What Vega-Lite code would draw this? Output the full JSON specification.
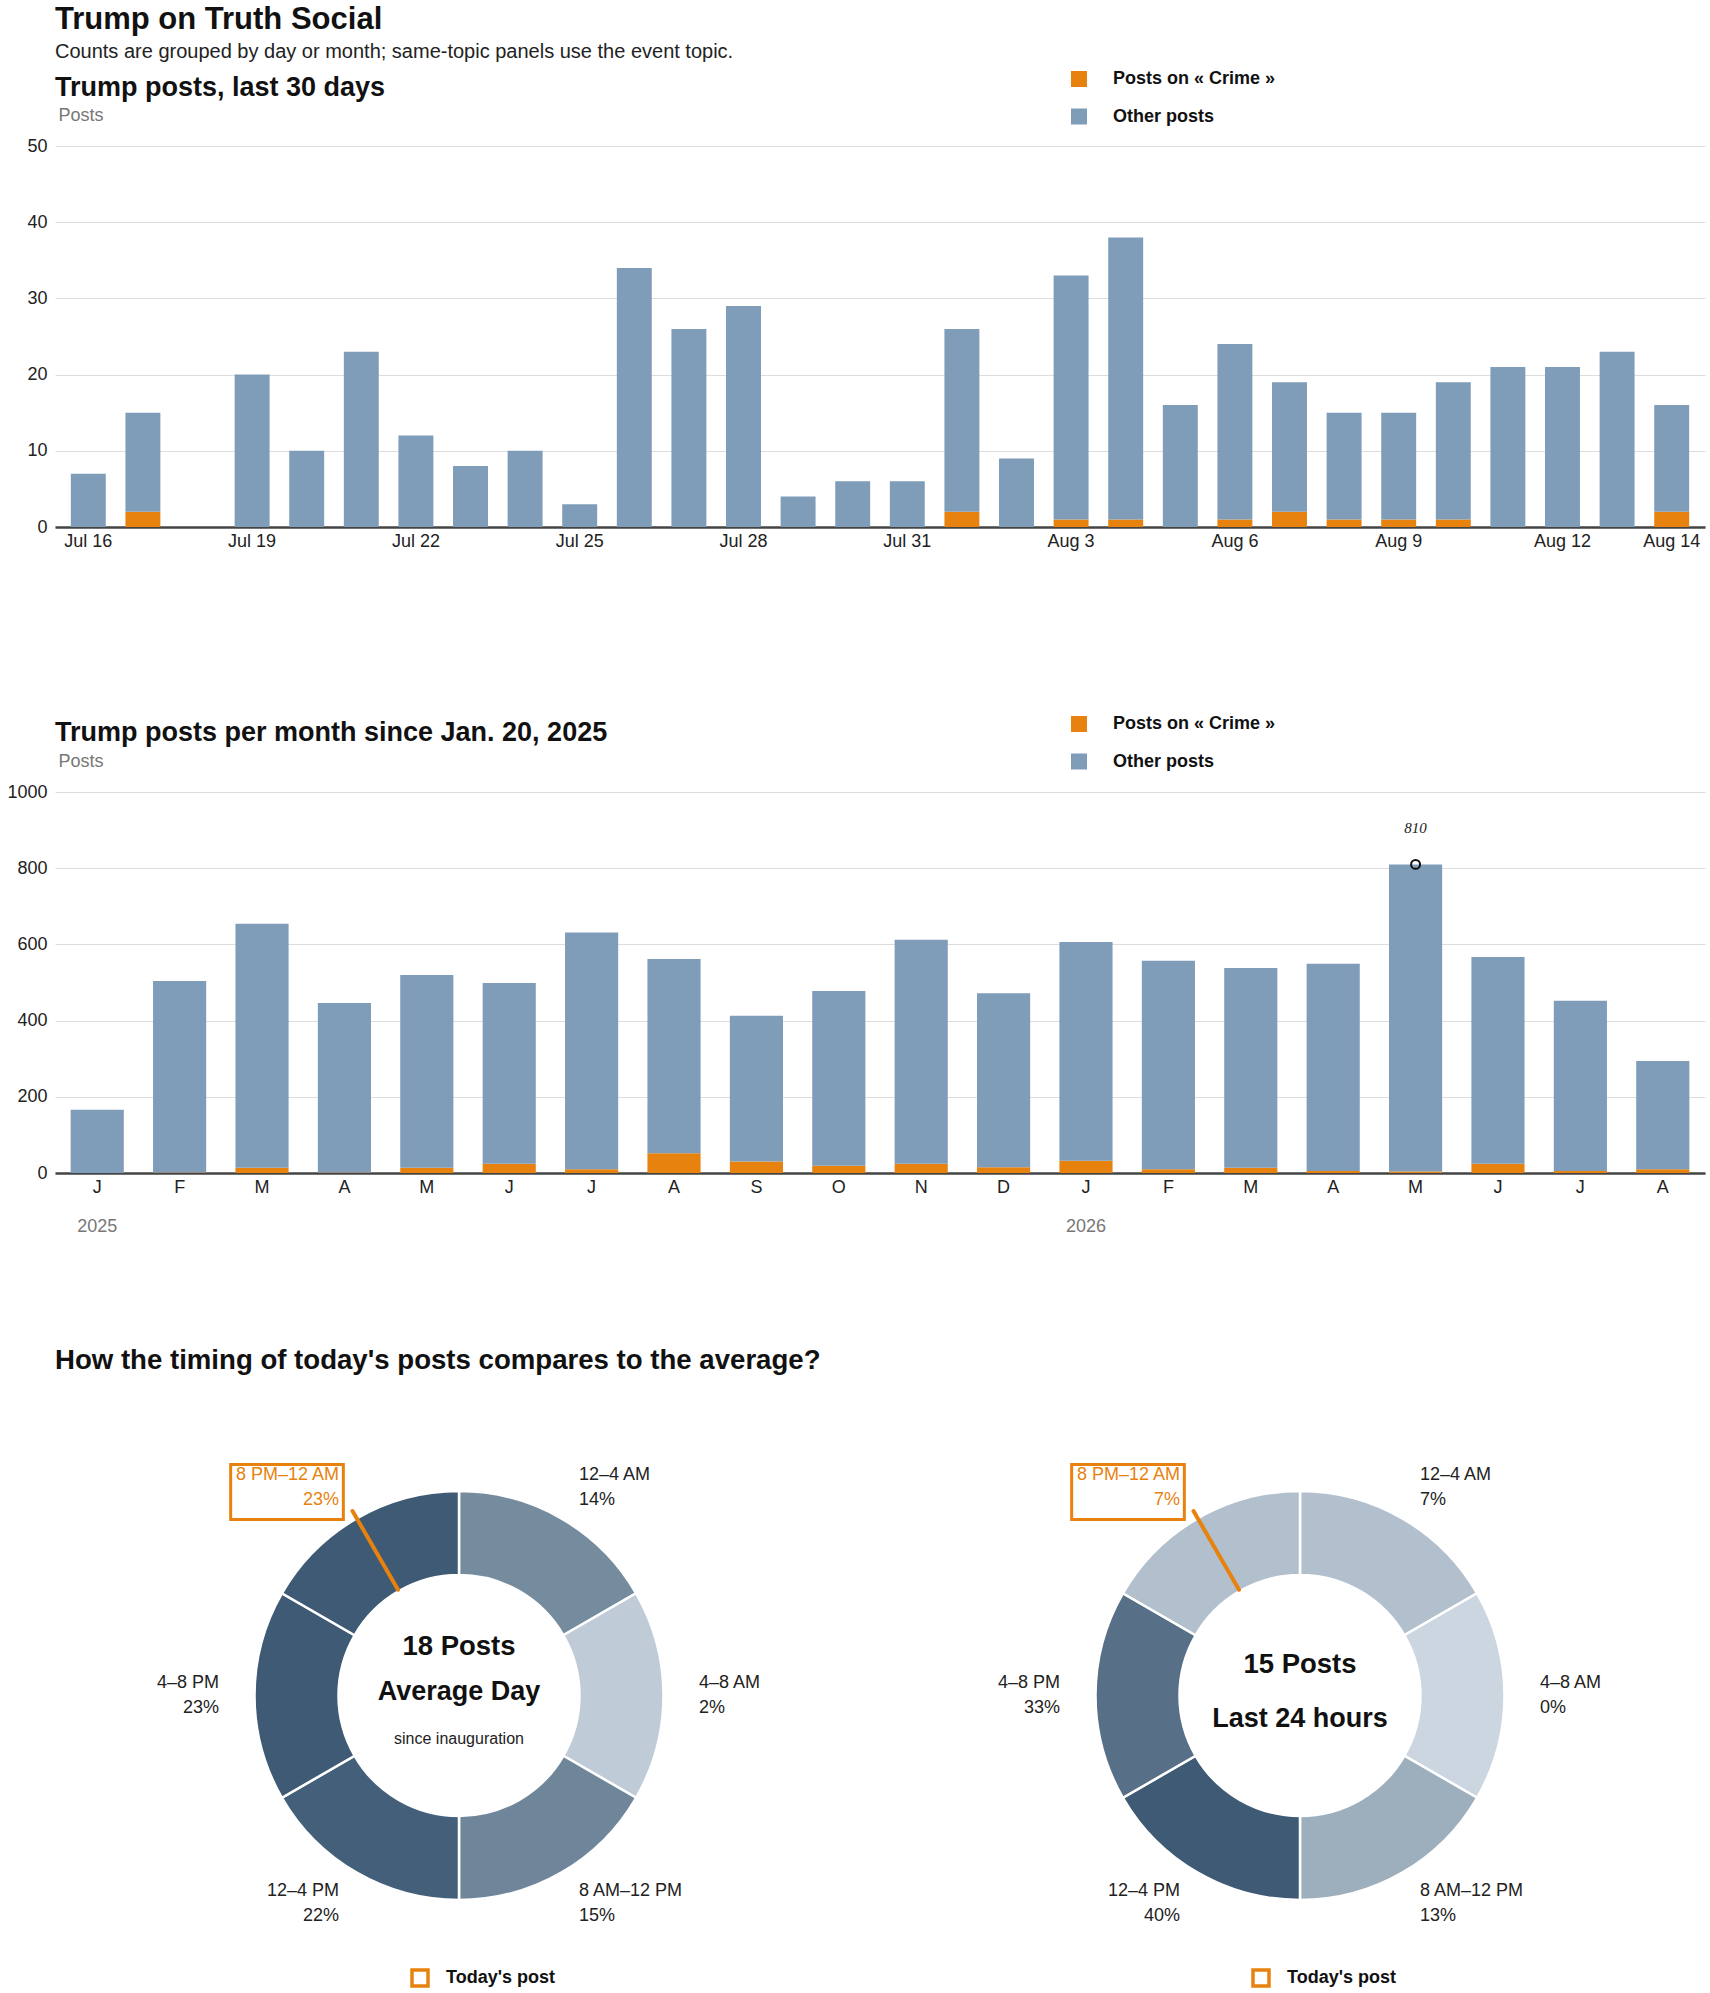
{
  "$schema": "https://vega.github.io/schema/vega-lite/v6.json",
  "background": "white",
  "padding": {"left": 6, "top": 4, "right": 2, "bottom": 0},
  "title": {
    "text": "Trump on Truth Social",
    "subtitle": "Counts are grouped by day or month; same-topic panels use the event topic.",
    "fontSize": 31,
    "subtitleFontSize": 20,
    "subtitleColor": "#222",
    "subtitlePadding": 6,
    "offset": 7
  },
  "datasets": {
    "daily": [
      {"day": "2026-07-16", "kind": "Posts on « Crime »", "posts": 0}, {"day": "2026-07-16", "kind": "Other posts", "posts": 7},
      {"day": "2026-07-17", "kind": "Posts on « Crime »", "posts": 2}, {"day": "2026-07-17", "kind": "Other posts", "posts": 13},
      {"day": "2026-07-18", "kind": "Posts on « Crime »", "posts": 0}, {"day": "2026-07-18", "kind": "Other posts", "posts": 0},
      {"day": "2026-07-19", "kind": "Posts on « Crime »", "posts": 0}, {"day": "2026-07-19", "kind": "Other posts", "posts": 20},
      {"day": "2026-07-20", "kind": "Posts on « Crime »", "posts": 0}, {"day": "2026-07-20", "kind": "Other posts", "posts": 10},
      {"day": "2026-07-21", "kind": "Posts on « Crime »", "posts": 0}, {"day": "2026-07-21", "kind": "Other posts", "posts": 23},
      {"day": "2026-07-22", "kind": "Posts on « Crime »", "posts": 0}, {"day": "2026-07-22", "kind": "Other posts", "posts": 12},
      {"day": "2026-07-23", "kind": "Posts on « Crime »", "posts": 0}, {"day": "2026-07-23", "kind": "Other posts", "posts": 8},
      {"day": "2026-07-24", "kind": "Posts on « Crime »", "posts": 0}, {"day": "2026-07-24", "kind": "Other posts", "posts": 10},
      {"day": "2026-07-25", "kind": "Posts on « Crime »", "posts": 0}, {"day": "2026-07-25", "kind": "Other posts", "posts": 3},
      {"day": "2026-07-26", "kind": "Posts on « Crime »", "posts": 0}, {"day": "2026-07-26", "kind": "Other posts", "posts": 34},
      {"day": "2026-07-27", "kind": "Posts on « Crime »", "posts": 0}, {"day": "2026-07-27", "kind": "Other posts", "posts": 26},
      {"day": "2026-07-28", "kind": "Posts on « Crime »", "posts": 0}, {"day": "2026-07-28", "kind": "Other posts", "posts": 29},
      {"day": "2026-07-29", "kind": "Posts on « Crime »", "posts": 0}, {"day": "2026-07-29", "kind": "Other posts", "posts": 4},
      {"day": "2026-07-30", "kind": "Posts on « Crime »", "posts": 0}, {"day": "2026-07-30", "kind": "Other posts", "posts": 6},
      {"day": "2026-07-31", "kind": "Posts on « Crime »", "posts": 0}, {"day": "2026-07-31", "kind": "Other posts", "posts": 6},
      {"day": "2026-08-01", "kind": "Posts on « Crime »", "posts": 2}, {"day": "2026-08-01", "kind": "Other posts", "posts": 24},
      {"day": "2026-08-02", "kind": "Posts on « Crime »", "posts": 0}, {"day": "2026-08-02", "kind": "Other posts", "posts": 9},
      {"day": "2026-08-03", "kind": "Posts on « Crime »", "posts": 1}, {"day": "2026-08-03", "kind": "Other posts", "posts": 32},
      {"day": "2026-08-04", "kind": "Posts on « Crime »", "posts": 1}, {"day": "2026-08-04", "kind": "Other posts", "posts": 37},
      {"day": "2026-08-05", "kind": "Posts on « Crime »", "posts": 0}, {"day": "2026-08-05", "kind": "Other posts", "posts": 16},
      {"day": "2026-08-06", "kind": "Posts on « Crime »", "posts": 1}, {"day": "2026-08-06", "kind": "Other posts", "posts": 23},
      {"day": "2026-08-07", "kind": "Posts on « Crime »", "posts": 2}, {"day": "2026-08-07", "kind": "Other posts", "posts": 17},
      {"day": "2026-08-08", "kind": "Posts on « Crime »", "posts": 1}, {"day": "2026-08-08", "kind": "Other posts", "posts": 14},
      {"day": "2026-08-09", "kind": "Posts on « Crime »", "posts": 1}, {"day": "2026-08-09", "kind": "Other posts", "posts": 14},
      {"day": "2026-08-10", "kind": "Posts on « Crime »", "posts": 1}, {"day": "2026-08-10", "kind": "Other posts", "posts": 18},
      {"day": "2026-08-11", "kind": "Posts on « Crime »", "posts": 0}, {"day": "2026-08-11", "kind": "Other posts", "posts": 21},
      {"day": "2026-08-12", "kind": "Posts on « Crime »", "posts": 0}, {"day": "2026-08-12", "kind": "Other posts", "posts": 21},
      {"day": "2026-08-13", "kind": "Posts on « Crime »", "posts": 0}, {"day": "2026-08-13", "kind": "Other posts", "posts": 23},
      {"day": "2026-08-14", "kind": "Posts on « Crime »", "posts": 2}, {"day": "2026-08-14", "kind": "Other posts", "posts": 14}
    ],
    "monthly": [
      {"month": "2025-01", "kind": "Posts on « Crime »", "posts": 0}, {"month": "2025-01", "kind": "Other posts", "posts": 166},
      {"month": "2025-02", "kind": "Posts on « Crime »", "posts": 1}, {"month": "2025-02", "kind": "Other posts", "posts": 503},
      {"month": "2025-03", "kind": "Posts on « Crime »", "posts": 14}, {"month": "2025-03", "kind": "Other posts", "posts": 640},
      {"month": "2025-04", "kind": "Posts on « Crime »", "posts": 1}, {"month": "2025-04", "kind": "Other posts", "posts": 445},
      {"month": "2025-05", "kind": "Posts on « Crime »", "posts": 14}, {"month": "2025-05", "kind": "Other posts", "posts": 506},
      {"month": "2025-06", "kind": "Posts on « Crime »", "posts": 24}, {"month": "2025-06", "kind": "Other posts", "posts": 475},
      {"month": "2025-07", "kind": "Posts on « Crime »", "posts": 10}, {"month": "2025-07", "kind": "Other posts", "posts": 621},
      {"month": "2025-08", "kind": "Posts on « Crime »", "posts": 52}, {"month": "2025-08", "kind": "Other posts", "posts": 510},
      {"month": "2025-09", "kind": "Posts on « Crime »", "posts": 30}, {"month": "2025-09", "kind": "Other posts", "posts": 383},
      {"month": "2025-10", "kind": "Posts on « Crime »", "posts": 19}, {"month": "2025-10", "kind": "Other posts", "posts": 459},
      {"month": "2025-11", "kind": "Posts on « Crime »", "posts": 24}, {"month": "2025-11", "kind": "Other posts", "posts": 588},
      {"month": "2025-12", "kind": "Posts on « Crime »", "posts": 15}, {"month": "2025-12", "kind": "Other posts", "posts": 457},
      {"month": "2026-01", "kind": "Posts on « Crime »", "posts": 32}, {"month": "2026-01", "kind": "Other posts", "posts": 574},
      {"month": "2026-02", "kind": "Posts on « Crime »", "posts": 10}, {"month": "2026-02", "kind": "Other posts", "posts": 547},
      {"month": "2026-03", "kind": "Posts on « Crime »", "posts": 14}, {"month": "2026-03", "kind": "Other posts", "posts": 524},
      {"month": "2026-04", "kind": "Posts on « Crime »", "posts": 5}, {"month": "2026-04", "kind": "Other posts", "posts": 544},
      {"month": "2026-05", "kind": "Posts on « Crime »", "posts": 4}, {"month": "2026-05", "kind": "Other posts", "posts": 806},
      {"month": "2026-06", "kind": "Posts on « Crime »", "posts": 24}, {"month": "2026-06", "kind": "Other posts", "posts": 543},
      {"month": "2026-07", "kind": "Posts on « Crime »", "posts": 5}, {"month": "2026-07", "kind": "Other posts", "posts": 447},
      {"month": "2026-08", "kind": "Posts on « Crime »", "posts": 10}, {"month": "2026-08", "kind": "Other posts", "posts": 284}
    ],
    "peak": [{"month": "2026-05", "posts": 810}],
    "avg_slots": [
      {"slot": "12–4 AM", "start": 0, "hours": 4, "share": 0.14, "current": false},
      {"slot": "4–8 AM", "start": 4, "hours": 4, "share": 0.02, "current": false},
      {"slot": "8 AM–12 PM", "start": 8, "hours": 4, "share": 0.15, "current": false},
      {"slot": "12–4 PM", "start": 12, "hours": 4, "share": 0.22, "current": false},
      {"slot": "4–8 PM", "start": 16, "hours": 4, "share": 0.23, "current": false},
      {"slot": "8 PM–12 AM", "start": 20, "hours": 4, "share": 0.23, "current": true}
    ],
    "day_slots": [
      {"slot": "12–4 AM", "start": 0, "hours": 4, "share": 0.07, "current": false},
      {"slot": "4–8 AM", "start": 4, "hours": 4, "share": 0.0, "current": false},
      {"slot": "8 AM–12 PM", "start": 8, "hours": 4, "share": 0.13, "current": false},
      {"slot": "12–4 PM", "start": 12, "hours": 4, "share": 0.40, "current": false},
      {"slot": "4–8 PM", "start": 16, "hours": 4, "share": 0.33, "current": false},
      {"slot": "8 PM–12 AM", "start": 20, "hours": 4, "share": 0.07, "current": true}
    ],
    "avg_center": [{"posts": "18 Posts", "period": "Average Day", "note": "since inauguration"}],
    "day_center": [{"posts": "15 Posts", "period": "Last 24 hours"}],
    "marker": [{"hour": 22, "marker": "Today's post"}]
  },
  "vconcat": [
    {
      "width": 1650,
      "height": 381,
      "title": {"text": "Trump posts, last 30 days", "dy": 35.5},
      "data": {"name": "daily"},
      "mark": {"type": "bar"},
      "encoding": {
        "x": {
          "field": "day", "type": "ordinal", "timeUnit": "utcyearmonthdate", "title": null,
          "scale": {"paddingInner": 0.36, "paddingOuter": 0.29},
          "axis": {"orient": "bottom", "labelExpr": "(round((datum.value - utc(2026, 6, 16)) / 86400000) % 3 == 0 || (utcdate(datum.value) == 14 && utcmonth(datum.value) == 7)) ? utcFormat(datum.value, '%b %-d') : ''"}
        },
        "y": {
          "field": "posts", "type": "quantitative", "stack": "zero", "title": "Posts",
          "scale": {"domain": [0, 50], "nice": false},
          "axis": {"values": [0, 10, 20, 30, 40, 50]}
        },
        "color": {
          "field": "kind", "type": "nominal",
          "scale": {"domain": ["Posts on « Crime »", "Other posts"], "range": ["#e8820e", "#7f9db9"]},
          "legend": {"orient": "none", "legendX": 1015, "legendY": -76, "title": null, "direction": "vertical", "symbolType": "square", "symbolSize": 256, "symbolStrokeWidth": 0, "labelFontSize": 18, "labelFontWeight": "bold", "labelColor": "#111", "labelOffset": 25, "labelLimit": 400, "rowPadding": 19.5}
        },
        "order": {"field": "kind", "sort": "descending"}
      }
    },
    {
      "width": 1650,
      "height": 381,
      "title": {"text": "Trump posts per month since Jan. 20, 2025", "dy": 35.5},
      "layer": [
        {
          "data": {"name": "monthly"},
          "mark": {"type": "bar"},
          "encoding": {
            "x": {
              "field": "month", "type": "ordinal", "timeUnit": "utcyearmonth", "title": null,
              "scale": {"paddingInner": 0.355, "paddingOuter": 0.19},
              "axis": {"orient": "bottom", "labelExpr": "substring(utcFormat(datum.value, '%B'), 0, 1)"}
            },
            "y": {
              "field": "posts", "type": "quantitative", "stack": "zero", "title": "Posts",
              "scale": {"domain": [0, 1000], "nice": false},
              "axis": {"values": [0, 200, 400, 600, 800, 1000], "format": "d"}
            },
            "color": {
              "field": "kind", "type": "nominal",
              "scale": {"domain": ["Posts on « Crime »", "Other posts"], "range": ["#e8820e", "#7f9db9"]},
              "legend": {"orient": "none", "legendX": 1015, "legendY": -77, "title": null, "direction": "vertical", "symbolType": "square", "symbolSize": 256, "symbolStrokeWidth": 0, "labelFontSize": 18, "labelFontWeight": "bold", "labelColor": "#111", "labelOffset": 25, "labelLimit": 400, "rowPadding": 19.5}
            },
            "order": {"field": "kind", "sort": "descending"}
          }
        },
        {
          "data": {"name": "peak"},
          "mark": {"type": "point", "filled": false, "size": 80, "strokeWidth": 2, "color": "#111", "opacity": 1},
          "encoding": {
            "x": {
              "field": "month", "type": "ordinal", "timeUnit": "utcyearmonth", "title": null,
              "axis": {"orient": "bottom", "labelExpr": "utcmonth(datum.value) == 0 ? utcFormat(datum.value, '%Y') : ''", "labelPadding": 44, "labelColor": "#777", "domain": false, "grid": false}
            },
            "y": {"field": "posts", "type": "quantitative", "title": "Posts"}
          }
        },
        {
          "data": {"name": "peak"},
          "mark": {"type": "text", "dy": -36, "fontStyle": "italic", "fontSize": 15, "font": "Liberation Serif", "color": "#222"},
          "encoding": {
            "x": {"field": "month", "type": "ordinal", "timeUnit": "utcyearmonth", "title": null, "axis": null},
            "y": {"field": "posts", "type": "quantitative", "title": "Posts"},
            "text": {"field": "posts", "type": "quantitative"}
          }
        }
      ],
      "resolve": {"axis": {"x": "independent"}}
    },
    {
      "title": {"text": "How the timing of today's posts compares to the average?", "offset": 59, "fontSize": 27.6},
      "spacing": 33,
      "bounds": "flush",
      "hconcat": [
        {
          "width": 808,
          "height": 515,
          "layer": [
            {
              "data": {"name": "avg_slots"},
              "encoding": {
                "theta": {"field": "hours", "type": "quantitative", "stack": true, "scale": {"domain": [0, 24]}},
                "order": {"field": "start", "type": "quantitative", "sort": "ascending"}
              },
              "layer": [
                {
                  "mark": {"type": "arc", "innerRadius": 120.5, "outerRadius": 204.5, "stroke": "#ffffff", "strokeWidth": 2.5},
                  "encoding": {
                    "color": {"field": "share", "type": "quantitative", "scale": {"zero": true, "range": ["#cbd6e0", "#3e5a74"], "interpolate": "rgb"}, "legend": null}
                  }
                },
                {
                  "mark": {"type": "text", "radius": 240, "align": "left", "baseline": "middle", "dy": -12.5, "fontSize": 18},
                  "encoding": {
                    "text": {"condition": {"test": "datum.start < 12", "field": "slot", "type": "nominal"}, "value": ""},
                    "color": {"condition": {"test": "datum.current", "value": "#e8820e"}, "value": "#222"}
                  }
                },
                {
                  "mark": {"type": "text", "radius": 240, "align": "right", "baseline": "middle", "dy": -12.5, "fontSize": 18},
                  "encoding": {
                    "text": {"condition": {"test": "datum.start >= 12", "field": "slot", "type": "nominal"}, "value": ""},
                    "color": {"condition": {"test": "datum.current", "value": "#e8820e"}, "value": "#222"}
                  }
                },
                {
                  "mark": {"type": "text", "radius": 240, "align": "left", "baseline": "middle", "dy": 12.5, "fontSize": 18},
                  "encoding": {
                    "text": {"condition": {"test": "datum.start < 12", "field": "share", "type": "quantitative", "format": ".0%"}, "value": ""},
                    "color": {"condition": {"test": "datum.current", "value": "#e8820e"}, "value": "#222"}
                  }
                },
                {
                  "mark": {"type": "text", "radius": 240, "align": "right", "baseline": "middle", "dy": 12.5, "fontSize": 18},
                  "encoding": {
                    "text": {"condition": {"test": "datum.start >= 12", "field": "share", "type": "quantitative", "format": ".0%"}, "value": ""},
                    "color": {"condition": {"test": "datum.current", "value": "#e8820e"}, "value": "#222"}
                  }
                },
                {
                  "transform": [{"filter": "datum.current"}],
                  "mark": {"type": "text", "fill": "transparent", "stroke": "#e8820e", "strokeWidth": 3},
                  "encoding": {
                    "text": {"value": ""},
                    "opacity": {
                      "field": "slot", "type": "nominal", "scale": {"range": [1]},
                      "legend": {"orient": "none", "legendX": 174, "legendY": -4, "title": null, "symbolType": "M-1,-0.49H1V0.49H-1Z", "symbolSize": 12700, "symbolFillColor": "transparent", "symbolStrokeColor": "#e8820e", "symbolStrokeWidth": 3, "symbolOpacity": 1, "labelExpr": "''", "labelOffset": 0, "padding": 0}
                    }
                  }
                }
              ]
            },
            {
              "data": {"name": "avg_center"},
              "layer": [
                {"mark": {"type": "text", "dy": -49, "fontSize": 27.5, "fontWeight": "bold", "color": "#111", "baseline": "middle"}, "encoding": {"text": {"field": "posts", "type": "nominal"}}},
                {"mark": {"type": "text", "dy": -4, "fontSize": 27, "fontWeight": "bold", "color": "#111", "baseline": "middle"}, "encoding": {"text": {"field": "period", "type": "nominal"}}},
                {"mark": {"type": "text", "dy": 43, "fontSize": 16, "color": "#222", "baseline": "middle"}, "encoding": {"text": {"field": "note", "type": "nominal"}}}
              ]
            },
            {
              "data": {"name": "marker"},
              "mark": {"type": "arc", "innerRadius": 122, "outerRadius": 213, "strokeWidth": 4, "strokeJoin": "round", "fill": "#ffffff", "fillOpacity": 0},
              "encoding": {
                "theta": {"field": "hour", "type": "quantitative", "stack": null, "scale": {"domain": [0, 24]}},
                "theta2": {"field": "hour"},
                "stroke": {
                  "field": "marker", "type": "nominal", "scale": {"domain": ["Today's post"], "range": ["#e8820e"]},
                  "legend": {"orient": "none", "legendX": 355, "legendY": 530, "title": null, "symbolType": "square", "symbolSize": 256, "symbolFillColor": "#ffffff", "symbolStrokeColor": "#e8820e", "symbolStrokeWidth": 3.5, "symbolOpacity": 1, "labelFontSize": 18, "labelFontWeight": "bold", "labelColor": "#111", "labelOffset": 16, "labelLimit": 300, "padding": 0}
                }
              }
            }
          ]
        },
        {
          "width": 808,
          "height": 515,
          "layer": [
            {
              "data": {"name": "day_slots"},
              "encoding": {
                "theta": {"field": "hours", "type": "quantitative", "stack": true, "scale": {"domain": [0, 24]}},
                "order": {"field": "start", "type": "quantitative", "sort": "ascending"}
              },
              "layer": [
                {
                  "mark": {"type": "arc", "innerRadius": 120.5, "outerRadius": 204.5, "stroke": "#ffffff", "strokeWidth": 2.5},
                  "encoding": {
                    "color": {"field": "share", "type": "quantitative", "scale": {"zero": true, "range": ["#cbd6e0", "#3e5a74"], "interpolate": "rgb"}, "legend": null}
                  }
                },
                {
                  "mark": {"type": "text", "radius": 240, "align": "left", "baseline": "middle", "dy": -12.5, "fontSize": 18},
                  "encoding": {
                    "text": {"condition": {"test": "datum.start < 12", "field": "slot", "type": "nominal"}, "value": ""},
                    "color": {"condition": {"test": "datum.current", "value": "#e8820e"}, "value": "#222"}
                  }
                },
                {
                  "mark": {"type": "text", "radius": 240, "align": "right", "baseline": "middle", "dy": -12.5, "fontSize": 18},
                  "encoding": {
                    "text": {"condition": {"test": "datum.start >= 12", "field": "slot", "type": "nominal"}, "value": ""},
                    "color": {"condition": {"test": "datum.current", "value": "#e8820e"}, "value": "#222"}
                  }
                },
                {
                  "mark": {"type": "text", "radius": 240, "align": "left", "baseline": "middle", "dy": 12.5, "fontSize": 18},
                  "encoding": {
                    "text": {"condition": {"test": "datum.start < 12", "field": "share", "type": "quantitative", "format": ".0%"}, "value": ""},
                    "color": {"condition": {"test": "datum.current", "value": "#e8820e"}, "value": "#222"}
                  }
                },
                {
                  "mark": {"type": "text", "radius": 240, "align": "right", "baseline": "middle", "dy": 12.5, "fontSize": 18},
                  "encoding": {
                    "text": {"condition": {"test": "datum.start >= 12", "field": "share", "type": "quantitative", "format": ".0%"}, "value": ""},
                    "color": {"condition": {"test": "datum.current", "value": "#e8820e"}, "value": "#222"}
                  }
                },
                {
                  "transform": [{"filter": "datum.current"}],
                  "mark": {"type": "text", "fill": "transparent", "stroke": "#e8820e", "strokeWidth": 3},
                  "encoding": {
                    "text": {"value": ""},
                    "opacity": {
                      "field": "slot", "type": "nominal", "scale": {"range": [1]},
                      "legend": {"orient": "none", "legendX": 174, "legendY": -4, "title": null, "symbolType": "M-1,-0.49H1V0.49H-1Z", "symbolSize": 12700, "symbolFillColor": "transparent", "symbolStrokeColor": "#e8820e", "symbolStrokeWidth": 3, "symbolOpacity": 1, "labelExpr": "''", "labelOffset": 0, "padding": 0}
                    }
                  }
                }
              ]
            },
            {
              "data": {"name": "day_center"},
              "layer": [
                {"mark": {"type": "text", "dy": -31, "fontSize": 27.5, "fontWeight": "bold", "color": "#111", "baseline": "middle"}, "encoding": {"text": {"field": "posts", "type": "nominal"}}},
                {"mark": {"type": "text", "dy": 23, "fontSize": 27, "fontWeight": "bold", "color": "#111", "baseline": "middle"}, "encoding": {"text": {"field": "period", "type": "nominal"}}}
              ]
            },
            {
              "data": {"name": "marker"},
              "mark": {"type": "arc", "innerRadius": 122, "outerRadius": 213, "strokeWidth": 4, "strokeJoin": "round", "fill": "#ffffff", "fillOpacity": 0},
              "encoding": {
                "theta": {"field": "hour", "type": "quantitative", "stack": null, "scale": {"domain": [0, 24]}},
                "theta2": {"field": "hour"},
                "stroke": {
                  "field": "marker", "type": "nominal", "scale": {"domain": ["Today's post"], "range": ["#e8820e"]},
                  "legend": {"orient": "none", "legendX": 355, "legendY": 530, "title": null, "symbolType": "square", "symbolSize": 256, "symbolFillColor": "#ffffff", "symbolStrokeColor": "#e8820e", "symbolStrokeWidth": 3.5, "symbolOpacity": 1, "labelFontSize": 18, "labelFontWeight": "bold", "labelColor": "#111", "labelOffset": 16, "labelLimit": 300, "padding": 0}
                }
              }
            }
          ]
        }
      ],
      "resolve": {
        "scale": {"color": "independent", "opacity": "independent", "stroke": "independent", "theta": "independent"},
        "legend": {"opacity": "independent", "stroke": "independent"}
      }
    }
  ],
  "spacing": 265,
  "bounds": "flush",
  "resolve": {"scale": {"color": "independent"}, "legend": {"color": "independent"}},
  "config": {
    "font": "Liberation Sans",
    "view": {"stroke": null},
    "title": {"anchor": "start", "frame": "group", "fontSize": 27, "fontWeight": "bold", "color": "#111", "font": "Liberation Sans", "subtitleFont": "Liberation Sans"},
    "axis": {"labelFont": "Liberation Sans", "labelFontSize": 18, "labelColor": "#222", "titleFont": "Liberation Sans", "ticks": false, "gridColor": "#dddddd", "gridWidth": 1},
    "axisX": {"domainColor": "#444444", "domainWidth": 2.5, "labelPadding": 5, "labelAngle": 0, "grid": false, "labelOverlap": false},
    "axisY": {"domain": false, "labelPadding": 8, "titleAngle": 0, "titleAlign": "left", "titleBaseline": "middle", "titleX": 3, "titleY": -31, "titleColor": "#777", "titleFontSize": 18, "titleFontWeight": "normal"},
    "legend": {"labelFont": "Liberation Sans", "padding": 0},
    "text": {"font": "Liberation Sans"}
  }
}
